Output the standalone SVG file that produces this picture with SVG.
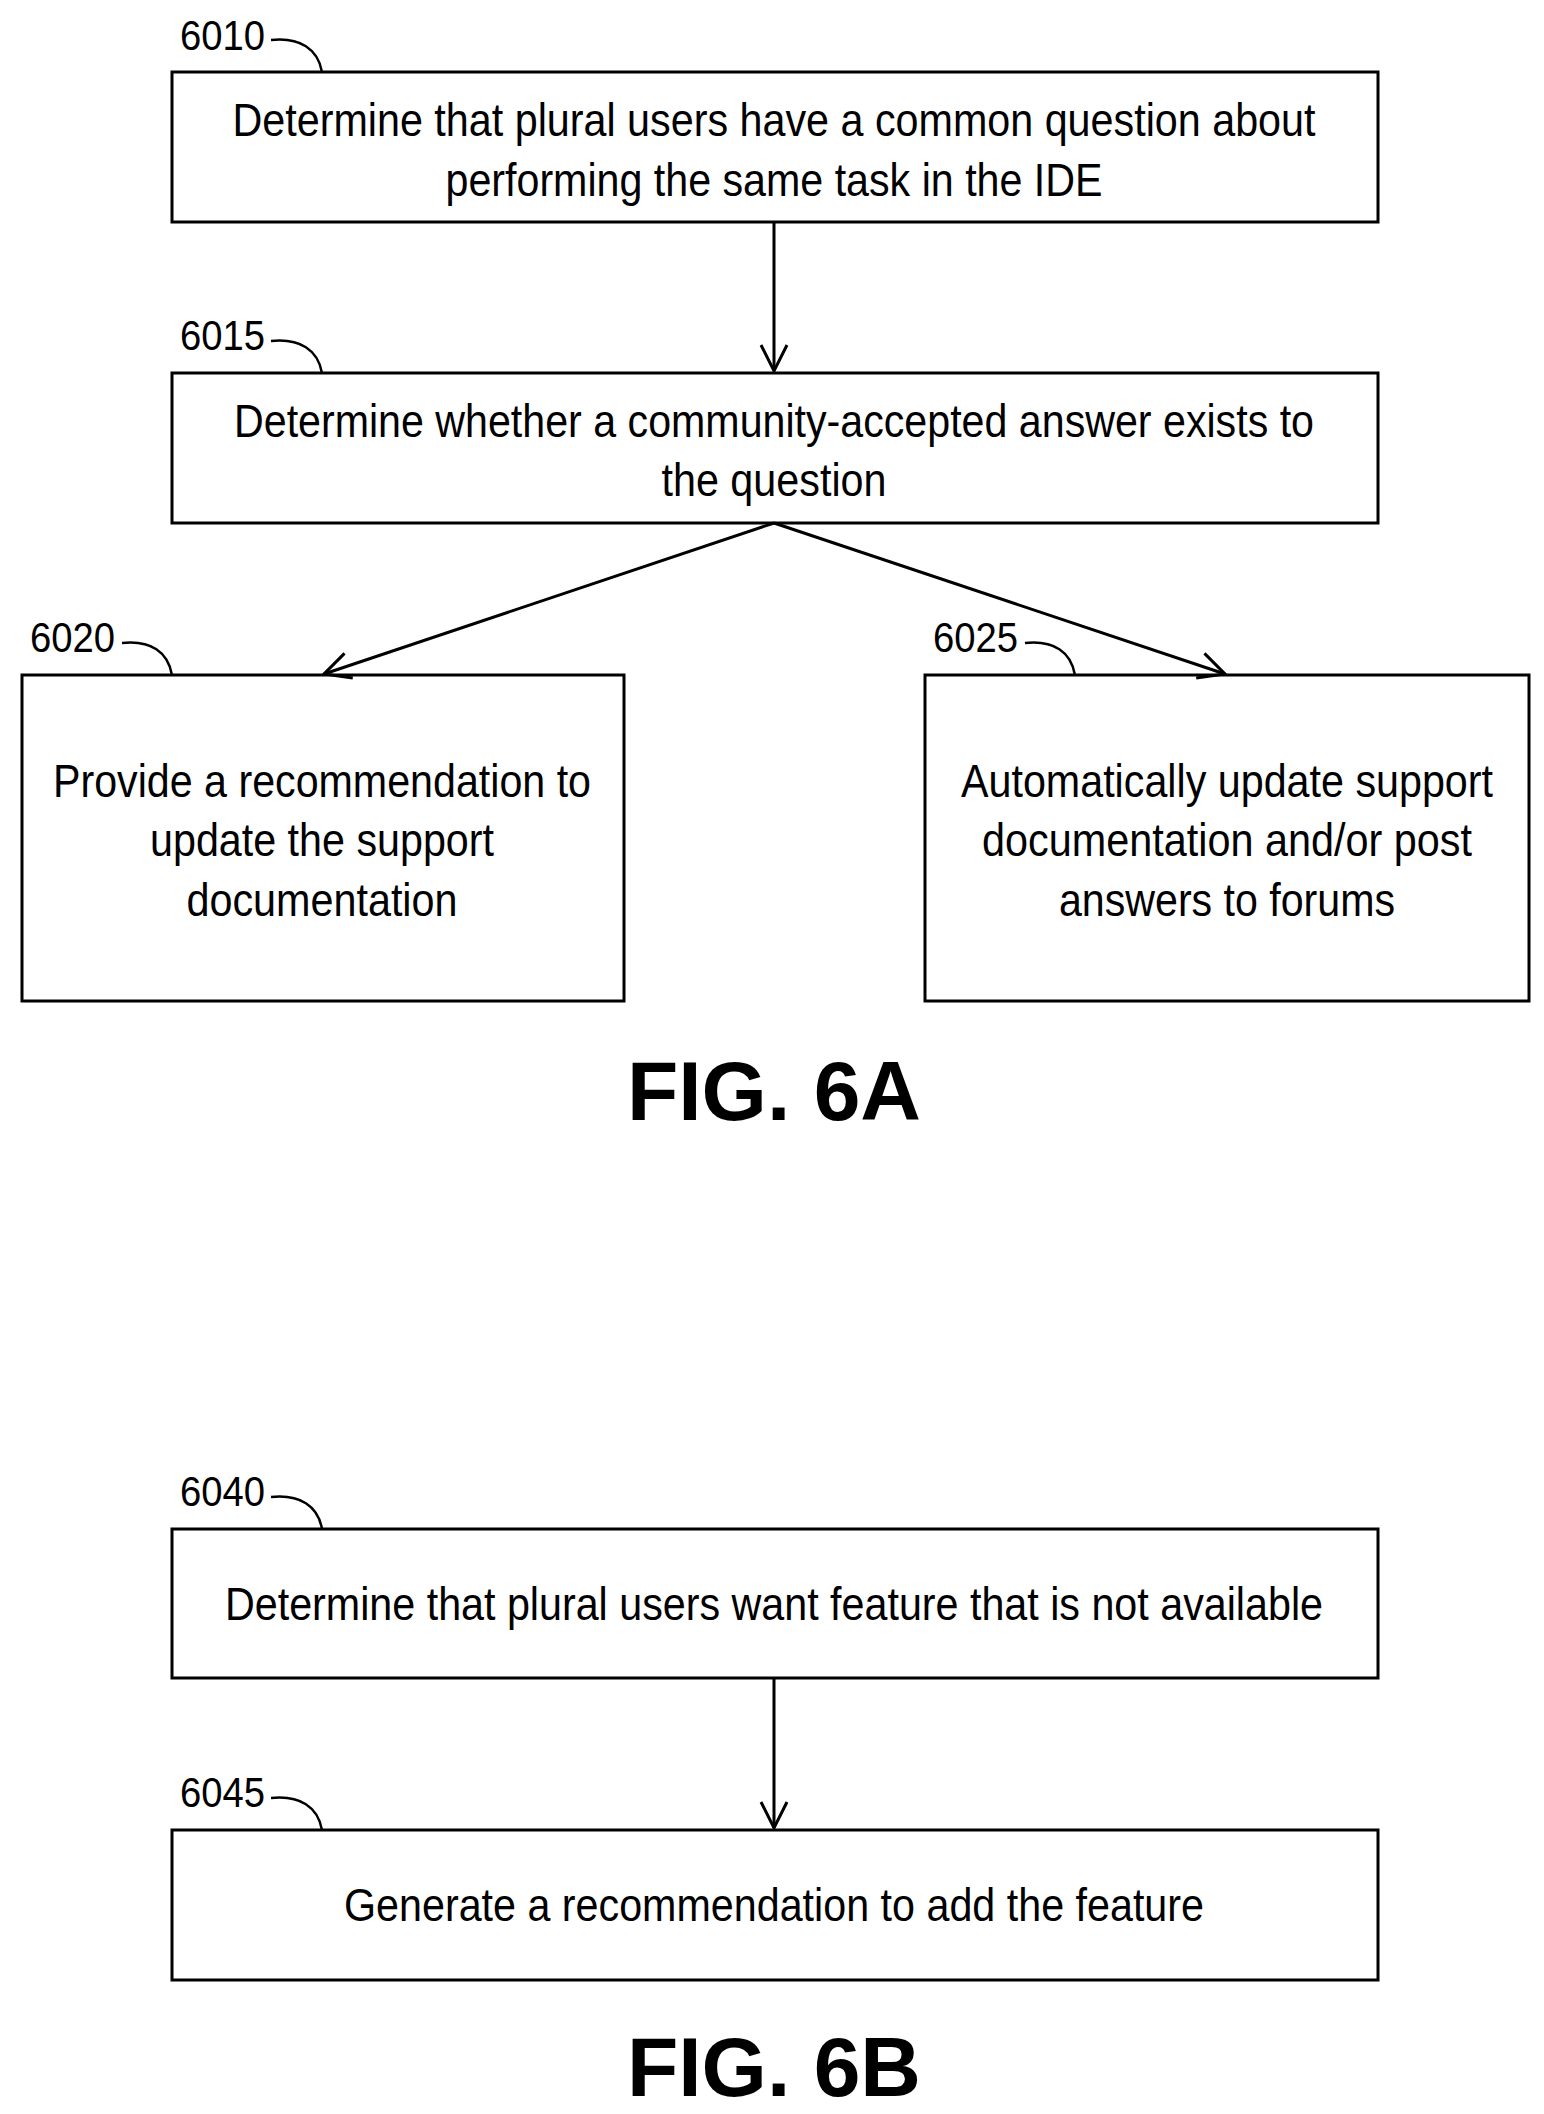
<svg xmlns="http://www.w3.org/2000/svg" width="1544" height="2114" viewBox="0 0 1544 2114">
<style>
.b{fill:#fff;stroke:#000;stroke-width:3}
.t{font-family:"Liberation Sans",Arial,sans-serif;font-size:46px;text-anchor:middle;fill:#000}
.l{font-family:"Liberation Sans",Arial,sans-serif;font-size:42px;fill:#000}
.c{fill:none;stroke:#000;stroke-width:2.5}
.f{font-family:"Liberation Sans",Arial,sans-serif;font-size:84px;font-weight:bold;text-anchor:middle}
.a{stroke:#000;stroke-width:3;fill:none}
</style>
<defs><marker id="m" markerWidth="34" markerHeight="34" refX="30" refY="17" orient="auto" markerUnits="userSpaceOnUse"><path d="M4,4 L30,17 L4,30" fill="none" stroke="#000" stroke-width="3"/></marker></defs>
<g id="n6010"><rect class="b" x="172" y="72" width="1206" height="150"/>
<text class="t" x="774" y="136" textLength="1083" lengthAdjust="spacingAndGlyphs">Determine that plural users have a common question about</text>
<text class="t" x="774" y="196" textLength="657" lengthAdjust="spacingAndGlyphs">performing the same task in the IDE</text>
<text class="l" x="180" y="50" textLength="85" lengthAdjust="spacingAndGlyphs">6010</text><path class="c" d="M271,40 C300,37 318,49 322,72"/></g>
<g id="n6015"><rect class="b" x="172" y="373" width="1206" height="150"/>
<text class="t" x="774" y="437" textLength="1080" lengthAdjust="spacingAndGlyphs">Determine whether a community-accepted answer exists to</text>
<text class="t" x="774" y="496" textLength="225" lengthAdjust="spacingAndGlyphs">the question</text>
<text class="l" x="180" y="350" textLength="85" lengthAdjust="spacingAndGlyphs">6015</text><path class="c" d="M271,341 C300,338 318,350 322,373"/></g>
<g id="n6020"><rect class="b" x="22" y="675" width="602" height="326"/>
<text class="t" x="322" y="797" textLength="538" lengthAdjust="spacingAndGlyphs">Provide a recommendation to</text>
<text class="t" x="322" y="856" textLength="344" lengthAdjust="spacingAndGlyphs">update the support</text>
<text class="t" x="322" y="916" textLength="271" lengthAdjust="spacingAndGlyphs">documentation</text>
<text class="l" x="30" y="652" textLength="85" lengthAdjust="spacingAndGlyphs">6020</text><path class="c" d="M122,643 C151,640 168,652 172,675"/></g>
<g id="n6025"><rect class="b" x="925" y="675" width="604" height="326"/>
<text class="t" x="1227" y="797" textLength="532" lengthAdjust="spacingAndGlyphs">Automatically update support</text>
<text class="t" x="1227" y="856" textLength="490" lengthAdjust="spacingAndGlyphs">documentation and/or post</text>
<text class="t" x="1227" y="916" textLength="336" lengthAdjust="spacingAndGlyphs">answers to forums</text>
<text class="l" x="933" y="652" textLength="85" lengthAdjust="spacingAndGlyphs">6025</text><path class="c" d="M1025,643 C1054,640 1071,652 1075,675"/></g>
<text class="f" x="774" y="1120">FIG. 6A</text>
<g id="n6040"><rect class="b" x="172" y="1529" width="1206" height="149"/>
<text class="t" x="774" y="1620" textLength="1098" lengthAdjust="spacingAndGlyphs">Determine that plural users want feature that is not available</text>
<text class="l" x="180" y="1506" textLength="85" lengthAdjust="spacingAndGlyphs">6040</text><path class="c" d="M271,1497 C300,1494 318,1506 322,1529"/></g>
<g id="n6045"><rect class="b" x="172" y="1830" width="1206" height="150"/>
<text class="t" x="774" y="1921" textLength="860" lengthAdjust="spacingAndGlyphs">Generate a recommendation to add the feature</text>
<text class="l" x="180" y="1807" textLength="85" lengthAdjust="spacingAndGlyphs">6045</text><path class="c" d="M271,1798 C300,1795 318,1807 322,1830"/></g>
<text class="f" x="774" y="2096">FIG. 6B</text>
<g id="connectors">
<line class="a" x1="774" y1="222" x2="774" y2="371" marker-end="url(#m)"/>
<line class="a" x1="774" y1="523" x2="324" y2="674" marker-end="url(#m)"/>
<line class="a" x1="774" y1="523" x2="1225" y2="674" marker-end="url(#m)"/>
<line class="a" x1="774" y1="1678" x2="774" y2="1828" marker-end="url(#m)"/>
</g>
</svg>
